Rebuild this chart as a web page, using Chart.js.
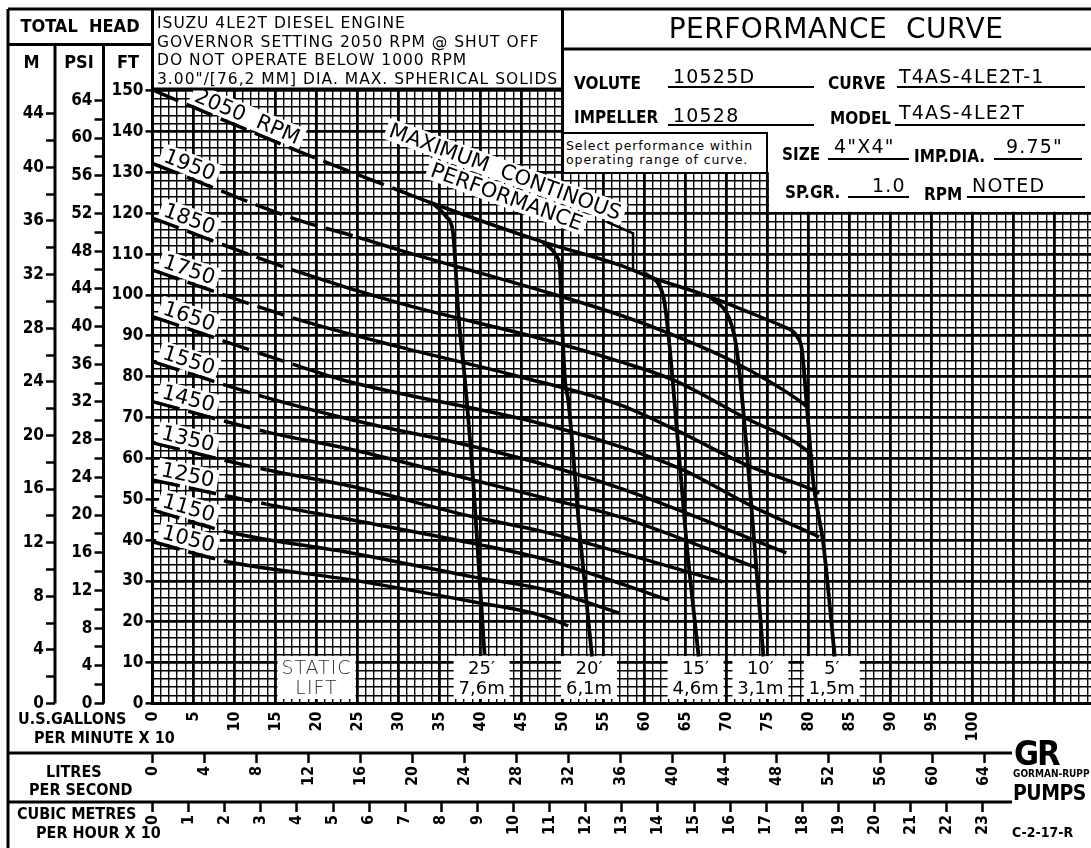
<!DOCTYPE html>
<html>
<head>
<meta charset="utf-8">
<title>T4AS-4LE2T performance curve</title>
<script src="https://cdn.jsdelivr.net/npm/chart.js@4.4.1/dist/chart.umd.min.js"></script>
<style>
  body { margin: 0; background: #fff; }
  #sheet { position: relative; width: 1091px; height: 848px; overflow: hidden; color: #000;
           font-family: 'DejaVu Sans', sans-serif; }
  #sheet canvas { position: absolute; left: 0; top: 0; }
  .t { position: absolute; white-space: nowrap; line-height: 1; }
  .hd { font-family: 'DejaVu Sans Condensed', 'DejaVu Sans', sans-serif; font-weight: bold; font-size: 18px; }
  .lb { font-family: 'DejaVu Sans Condensed', 'DejaVu Sans', sans-serif; font-weight: bold; font-size: 17px; }
  .val { font-size: 19px; letter-spacing: 1.2px; }
  .ax { font-family: 'DejaVu Sans Condensed', 'DejaVu Sans', sans-serif; font-weight: bold; font-size: 16px; }
  .notes { font-size: 15.5px; line-height: 18.5px; letter-spacing: 1px; }
  .ul { position: absolute; height: 1.5px; background: #000; }
  .sel { position: absolute; box-sizing: border-box; border: 2px solid #000; background: #fff;
         font-size: 12.5px; line-height: 14px; padding: 5px 0 0 2px; letter-spacing: 0.9px; white-space: nowrap; overflow: hidden; }
</style>
</head>
<body>
<div id="sheet">
  <canvas id="curveChart" width="1091" height="848"></canvas>

  <div class="t hd" style="left:8px;top:17px;width:144px;text-align:center">TOTAL&nbsp;&nbsp;HEAD</div>
  <div class="t hd" style="left:8px;top:53px;width:47px;text-align:center">M</div>
  <div class="t hd" style="left:55px;top:53px;width:48px;text-align:center">PSI</div>
  <div class="t hd" style="left:104px;top:53px;width:48px;text-align:center">FT</div>

  <div class="t notes" style="left:157px;top:14px">ISUZU 4LE2T DIESEL ENGINE<br>GOVERNOR SETTING 2050 RPM @ SHUT OFF<br>DO NOT OPERATE BELOW 1000 RPM<br>3.00"/[76,2 MM] DIA. MAX. SPHERICAL SOLIDS</div>

  <div class="t" style="left:572px;top:15px;width:528px;text-align:center;font-size:28px;letter-spacing:0.5px">PERFORMANCE&nbsp;&nbsp;CURVE</div>

  <div class="t lb" style="left:574px;top:75px">VOLUTE</div>
  <div class="t val" style="left:673px;top:67px">10525D</div>
  <div class="ul" style="left:668px;top:86px;width:146px"></div>
  <div class="t lb" style="left:828px;top:75px">CURVE</div>
  <div class="t val" style="left:899px;top:67px">T4AS-4LE2T-1</div>
  <div class="ul" style="left:897px;top:86px;width:188px"></div>

  <div class="t lb" style="left:574px;top:109px">IMPELLER</div>
  <div class="t val" style="left:673px;top:106px">10528</div>
  <div class="ul" style="left:668px;top:124px;width:146px"></div>
  <div class="t lb" style="left:830px;top:110px">MODEL</div>
  <div class="t val" style="left:899px;top:103px">T4AS-4LE2T</div>
  <div class="ul" style="left:895px;top:124px;width:190px"></div>

  <div class="sel" style="left:562px;top:132px;width:206px;height:42px">Select performance within<br>operating range of curve.</div>

  <div class="t lb" style="left:782px;top:146px">SIZE</div>
  <div class="t val" style="left:834px;top:137px">4"X4"</div>
  <div class="ul" style="left:828px;top:158px;width:81px"></div>
  <div class="t lb" style="left:914px;top:148px">IMP.DIA.</div>
  <div class="t val" style="left:1006px;top:137px">9.75"</div>
  <div class="ul" style="left:994px;top:158px;width:88px"></div>

  <div class="t lb" style="left:785px;top:184px">SP.GR.</div>
  <div class="t val" style="left:872px;top:176px">1.0</div>
  <div class="ul" style="left:848px;top:196px;width:61px"></div>
  <div class="t lb" style="left:924px;top:186px">RPM</div>
  <div class="t val" style="left:972px;top:176px">NOTED</div>
  <div class="ul" style="left:967px;top:196px;width:118px"></div>

  <div class="t ax" style="left:18px;top:711px">U.S.GALLONS</div>
  <div class="t ax" style="left:34px;top:730px">PER MINUTE X 10</div>
  <div class="t ax" style="left:46px;top:764px">LITRES</div>
  <div class="t ax" style="left:29px;top:782px">PER SECOND</div>
  <div class="t ax" style="left:17px;top:806px">CUBIC METRES</div>
  <div class="t ax" style="left:36px;top:825px">PER HOUR X 10</div>

  <div class="t hd" style="left:1014px;top:736px;font-size:34px;font-weight:900;letter-spacing:-2px">GR</div>
  <div class="t hd" style="left:1013px;top:769px;font-size:10px">GORMAN-RUPP</div>
  <div class="t hd" style="left:1013px;top:783px;font-size:21px;letter-spacing:-0.5px">PUMPS</div>
  <div class="t hd" style="left:1012px;top:825px;font-size:14px">C-2-17-R</div>
</div>

<script>
// Flow is read in US gallons per minute x 10, head in feet
const flowMax = 114.45;
const headMax = 150.4;
const ftPerMetre = 3.281;
const ftPerPsi = 2.307;
const lpsPerFlowUnit = 0.6309;
const m3hPerFlowUnit = 0.22712;

// Engine speed curves [flow, head ft]
const rpmNames = ['2050', '1950', '1850', '1750', '1650', '1550', '1450', '1350', '1250', '1150', '1050'];
const head2050 = [[0, 150.2], [17.9, 135.1], [29.9, 125.7], [34.2, 122.4], [47.6, 113.0], [57.0, 107.3], [60.6, 104.5], [67.9, 99.6], [76.5, 92.7]];
const head1950 = [[0, 132.2], [17.7, 118.4], [25.1, 114.1], [30.1, 111.0], [47.2, 101.2], [57.0, 95.1], [63.0, 90.6], [71.2, 83.3], [79.3, 73.5], [79.8, 72.6]];
const head1850 = [[0, 118.8], [17.7, 105.7], [30.1, 98.0], [47.2, 89.4], [57.0, 83.7], [63.5, 79.2], [72.0, 70.2], [79.7, 62.1], [80.5, 60.4]];
const head1750 = [[0, 106.1], [17.9, 93.9], [30.1, 87.3], [44.8, 80.0], [57.0, 73.1], [64.3, 66.5], [72.4, 58.4], [80.5, 52.3], [81.3, 51.5]];
const head1650 = [[0, 94.7], [18.1, 82.4], [23.2, 79.2], [47.2, 68.6], [57.0, 62.9], [64.7, 57.2], [73.2, 48.2], [81.3, 40.8]];
const head1550 = [[0, 83.7], [13.7, 75.0], [24.4, 69.4], [39.1, 62.9], [47.2, 58.8], [57.0, 52.7], [77.3, 36.9]];
const head1450 = [[0, 73.9], [13.9, 66.5], [24.4, 62.1], [39.1, 54.7], [48.0, 50.2], [57.0, 45.7], [73.8, 33.1]];
const head1350 = [[0, 63.8], [13.9, 57.2], [24.4, 53.1], [39.1, 45.7], [48.0, 41.9], [69.5, 29.8]];
const head1250 = [[0, 54.7], [13.9, 48.8], [24.4, 44.9], [39.1, 39.2], [48.0, 35.2], [63.0, 25.3]];
const head1150 = [[0, 47.4], [9.2, 42.0], [24.4, 36.8], [39.1, 31.0], [48.0, 27.8], [57.0, 22.1]];
const head1050 = [[0, 39.6], [9.2, 34.7], [24.4, 30.2], [39.1, 24.9], [47.2, 21.7], [50.7, 19.0]];
const rpmCurves = [head2050, head1950, head1850, head1750, head1650, head1550, head1450, head1350, head1250, head1150, head1050];
// below this flow each speed curve is drawn dashed
const dashedUntil = [29.9, 25.1, 17.7, 17.9, 18.1, 13.7, 13.9, 13.9, 13.9, 9.2, 9.2];

// Static suction lift curves [flow, head ft]
const liftFeet = ['25′', '20′', '15′', '10′', '5′'];
const liftMetres = ['7,6m', '6,1m', '4,6m', '3,1m', '1,5m'];
const lift25 = [[34.2, 122.4], [35.8, 119.2], [36.6, 115.9], [36.8, 111.8], [37.3, 95.5], [38.1, 79.2], [39.1, 54.7], [39.9, 30.2], [40.5, 11.9]];
const lift20 = [[47.6, 113.0], [49.3, 109.4], [49.7, 106.1], [49.9, 95.5], [50.3, 79.2], [50.7, 74.3], [52.1, 41.7], [53.6, 11.5]];
const lift15 = [[60.1, 105.3], [62.3, 99.6], [62.9, 90.6], [63.5, 77.6], [65.1, 40.0], [66.6, 11.5]];
const lift10 = [[68.0, 99.6], [70.4, 93.9], [71.2, 87.3], [72.0, 72.7], [73.3, 41.7], [74.5, 11.5]];
const lift5 = [[76.5, 92.7], [78.6, 89.8], [79.2, 86.5], [79.8, 72.7], [80.6, 53.9], [81.8, 39.2], [83.2, 11.5]];
const liftCurves = [lift25, lift20, lift15, lift10, lift5];

// leader from the "maximum continous performance" note down to the 2050 curve
const mcpLeader = [[55.4, 117.9], [58.6, 115.1], [58.6, 106.2]];

const CAD = "'DejaVu Sans Condensed', 'DejaVu Sans', sans-serif";
Chart.defaults.font.family = CAD;
Chart.defaults.color = '#000';

const tickFont = { family: CAD, weight: 'bold', size: 16 };
const headFont = { family: CAD, weight: 'bold', size: 17 };
const clear = 'rgba(0,0,0,0)';

function line(ctx, x1, y1, x2, y2) {
    ctx.beginPath();
    ctx.moveTo(x1, y1);
    ctx.lineTo(x2, y2);
    ctx.stroke();
}

// white backed text turned along a curve
function tag(ctx, text, cx, cy, angle, size) {
    ctx.save();
    ctx.translate(cx, cy);
    ctx.rotate(angle);
    ctx.font = size + "px 'DejaVu Sans', sans-serif";
    const w = ctx.measureText(text).width;
    const h = size * 0.8;
    ctx.fillStyle = '#fff';
    ctx.fillRect(-w / 2 - 4, -h / 2 - 3, w + 8, h + 5);
    ctx.fillStyle = '#000';
    ctx.textAlign = 'center';
    ctx.textBaseline = 'middle';
    ctx.fillText(text, 0, 1);
    ctx.restore();
}

const sheetPlugin = {
    id: 'sheet',
    beforeDatasetsDraw(chart) {
        const { ctx, chartArea: a, scales: { x, y } } = chart;
        ctx.save();

        // header panel hides the grid in the upper right
        const panelL = x.getPixelForValue(50);
        const selectR = x.getPixelForValue(75);
        const panelB = y.getPixelForValue(120);
        const selectB = y.getPixelForValue(130);
        ctx.fillStyle = '#fff';
        ctx.fillRect(panelL + 1.5, a.top - 2, a.right - panelL, selectB - a.top + 2);
        ctx.fillRect(selectR + 1.5, a.top - 2, a.right - selectR, panelB - 1.5 - a.top + 2);

        // speed labels
        rpmCurves.forEach((pts, i) => {
            const x0 = x.getPixelForValue(pts[0][0]), y0 = y.getPixelForValue(pts[0][1]);
            const x1 = x.getPixelForValue(pts[1][0]), y1 = y.getPixelForValue(pts[1][1]);
            const ang = Math.atan2(y1 - y0, x1 - x0);
            const px = x.getPixelForValue(i === 0 ? 11 : 4);
            const py = y0 + (y1 - y0) * (px - x0) / (x1 - x0);
            const off = 12;
            const text = i === 0 ? rpmNames[i] + '  RPM' : rpmNames[i];
            tag(ctx, text, px + Math.sin(ang) * off, py - Math.cos(ang) * off, ang, 21);
        });

        // maximum continous performance note
        const ang = 0.35;
        const mx = x.getPixelForValue(43), my = y.getPixelForValue(130.1);
        tag(ctx, 'MAXIMUM  CONTINOUS', mx, my, ang, 21);
        tag(ctx, 'PERFORMANCE', mx + 1.5, my + 25, ang, 21);

        // static lift boxes at the foot of every lift curve
        const boxTop = y.getPixelForValue(11.6);
        const boxBot = y.getPixelForValue(1.1);
        ctx.textAlign = 'center';
        ctx.textBaseline = 'alphabetic';
        liftCurves.forEach((pts, i) => {
            const cx = x.getPixelForValue(pts[pts.length - 1][0]) - 3;
            ctx.fillStyle = '#fff';
            ctx.fillRect(cx - 28, boxTop, 56, boxBot - boxTop);
            ctx.fillStyle = '#000';
            ctx.font = "18px 'DejaVu Sans', sans-serif";
            ctx.fillText(liftFeet[i], cx, boxTop + 18);
            ctx.fillText(liftMetres[i], cx, boxTop + 38);
        });
        const sx = x.getPixelForValue(20);
        ctx.fillStyle = '#fff';
        ctx.fillRect(sx - 39, boxTop, 78, boxBot - boxTop);
        ctx.fillStyle = '#333';
        ctx.font = "200 19px 'DejaVu Sans', sans-serif";
        ctx.letterSpacing = '1px';
        ctx.fillText('STATIC', sx, boxTop + 18);
        ctx.fillText('LIFT', sx, boxTop + 38);
        ctx.restore();
    },
    afterDraw(chart) {
        const { ctx, chartArea: a, scales } = chart;
        const x = scales.x, y = scales.y;
        const panelL = x.getPixelForValue(50);
        const selectB = y.getPixelForValue(130);
        const edge = scales.m.left;
        ctx.save();
        ctx.strokeStyle = '#000';
        ctx.lineWidth = 3;
        line(ctx, edge, 9, a.right, 9);
        line(ctx, edge, 9, edge, 848);
        line(ctx, edge, 44.5, a.left, 44.5);
        line(ctx, scales.m.right, 44.5, scales.m.right, a.bottom);
        line(ctx, scales.psi.right, 44.5, scales.psi.right, a.bottom);
        line(ctx, a.left, 9, a.left, a.bottom);
        line(ctx, a.left, a.top, panelL, a.top);
        line(ctx, panelL, 9, panelL, selectB);
        line(ctx, panelL, 49, a.right, 49);
        line(ctx, edge, scales.lps.top, 1012, scales.lps.top);
        line(ctx, edge, scales.m3h.top, 1012, scales.m3h.top);
        ctx.restore();
    }
};

const datasets = [];
rpmCurves.forEach((pts, i) => {
    datasets.push({
        label: rpmNames[i] + ' RPM',
        data: pts,
        borderColor: '#000',
        borderWidth: 3.5,
        pointRadius: 0,
        cubicInterpolationMode: 'monotone',
        segment: {
            borderDash: ctx => (ctx.p1.parsed.x <= dashedUntil[i] + 0.01 ? [28, 9] : undefined)
        }
    });
});
liftCurves.forEach((pts, i) => {
    datasets.push({
        label: liftFeet[i] + ' static lift',
        data: pts,
        borderColor: '#000',
        borderWidth: 3.8,
        pointRadius: 0,
        cubicInterpolationMode: 'monotone'
    });
});
datasets.push({
    label: 'Maximum continous performance',
    data: mcpLeader,
    borderColor: '#000',
    borderWidth: 2.5,
    pointRadius: 0
});

const chartCtx = document.getElementById('curveChart').getContext('2d');
const curveChart = new Chart(chartCtx, {
    type: 'line',
    data: { datasets: datasets },
    options: {
        responsive: false,
        animation: false,
        devicePixelRatio: 1,
        events: [],
        layout: { autoPadding: false, padding: { left: 8, top: 89.1, right: 0, bottom: 0 } },
        plugins: { legend: { display: false }, tooltip: { enabled: false } },
        scales: {
            x: {
                type: 'linear', position: 'bottom', weight: 0, min: 0, max: flowMax,
                afterFit: s => { s.height = 49.5; s.paddingLeft = 0; s.paddingRight = 0; },
                grid: {
                    drawTicks: false, color: '#000',
                    lineWidth: ctx => (ctx.tick && ctx.tick.value % 5 === 0 ? 2.8 : 1.4)
                },
                border: { display: true, color: '#000', width: 3 },
                ticks: {
                    stepSize: 1, autoSkip: false, includeBounds: false, minRotation: 90, maxRotation: 90,
                    padding: 8, font: tickFont, color: '#000',
                    callback: v => (v % 5 === 0 && v <= 100 ? String(v) : '')
                }
            },
            lps: {
                type: 'linear', position: 'bottom', weight: 1, min: 0, max: flowMax * lpsPerFlowUnit,
                afterFit: s => { s.height = 49; s.paddingLeft = 0; s.paddingRight = 0; },
                grid: {
                    drawOnChartArea: false, tickLength: 10, tickWidth: 2.5,
                    tickColor: ctx => (ctx.tick.value <= 64 ? '#000' : clear)
                },
                border: { display: false },
                ticks: {
                    stepSize: 4, autoSkip: false, includeBounds: false, minRotation: 90, maxRotation: 90,
                    padding: 3, font: tickFont, color: '#000',
                    callback: v => (v <= 64 ? String(v) : '')
                }
            },
            m3h: {
                type: 'linear', position: 'bottom', weight: 2, min: 0, max: flowMax * m3hPerFlowUnit,
                afterFit: s => { s.height = 46; s.paddingLeft = 0; s.paddingRight = 0; },
                grid: {
                    drawOnChartArea: false, tickLength: 10, tickWidth: 2.5,
                    tickColor: ctx => (ctx.tick.value <= 23 ? '#000' : clear)
                },
                border: { display: false },
                ticks: {
                    stepSize: 1, autoSkip: false, includeBounds: false, minRotation: 90, maxRotation: 90,
                    padding: 3, font: tickFont, color: '#000',
                    callback: v => (v <= 23 ? String(v) : '')
                }
            },
            y: {
                type: 'linear', position: 'left', weight: 0, min: 0, max: headMax,
                afterFit: s => { s.width = 49; s.paddingTop = 0; s.paddingBottom = 0; },
                grid: {
                    color: '#000',
                    lineWidth: ctx => (ctx.tick && ctx.tick.value % 10 === 0 ? 2.8 : 1.4),
                    tickLength: 7, tickWidth: 2.5,
                    tickColor: ctx => (ctx.tick.value % 10 === 0 ? '#000' : clear)
                },
                border: { display: true, color: '#000', width: 3 },
                ticks: {
                    stepSize: 2, autoSkip: false, includeBounds: false, padding: 2, font: headFont, color: '#000',
                    callback: v => (v % 10 === 0 ? String(v) : '')
                }
            },
            psi: {
                type: 'linear', position: 'left', weight: 1, min: 0, max: headMax / ftPerPsi,
                afterFit: s => { s.width = 48.5; s.paddingTop = 0; s.paddingBottom = 0; },
                grid: { drawOnChartArea: false, tickLength: 9, tickWidth: 2.5, tickColor: '#000' },
                border: { display: false },
                ticks: {
                    stepSize: 2, autoSkip: false, includeBounds: false, padding: 2, font: headFont, color: '#000',
                    callback: v => (v % 4 === 0 ? String(v) : '')
                }
            },
            m: {
                type: 'linear', position: 'left', weight: 2, min: 0, max: headMax / ftPerMetre,
                afterFit: s => { s.width = 47; s.paddingTop = 0; s.paddingBottom = 0; },
                grid: { drawOnChartArea: false, tickLength: 9, tickWidth: 2.5, tickColor: '#000' },
                border: { display: false },
                ticks: {
                    stepSize: 2, autoSkip: false, includeBounds: false, padding: 2, font: headFont, color: '#000',
                    callback: v => (v % 4 === 0 ? String(v) : '')
                }
            }
        }
    },
    plugins: [sheetPlugin]
});
</script>
</body>
</html>
